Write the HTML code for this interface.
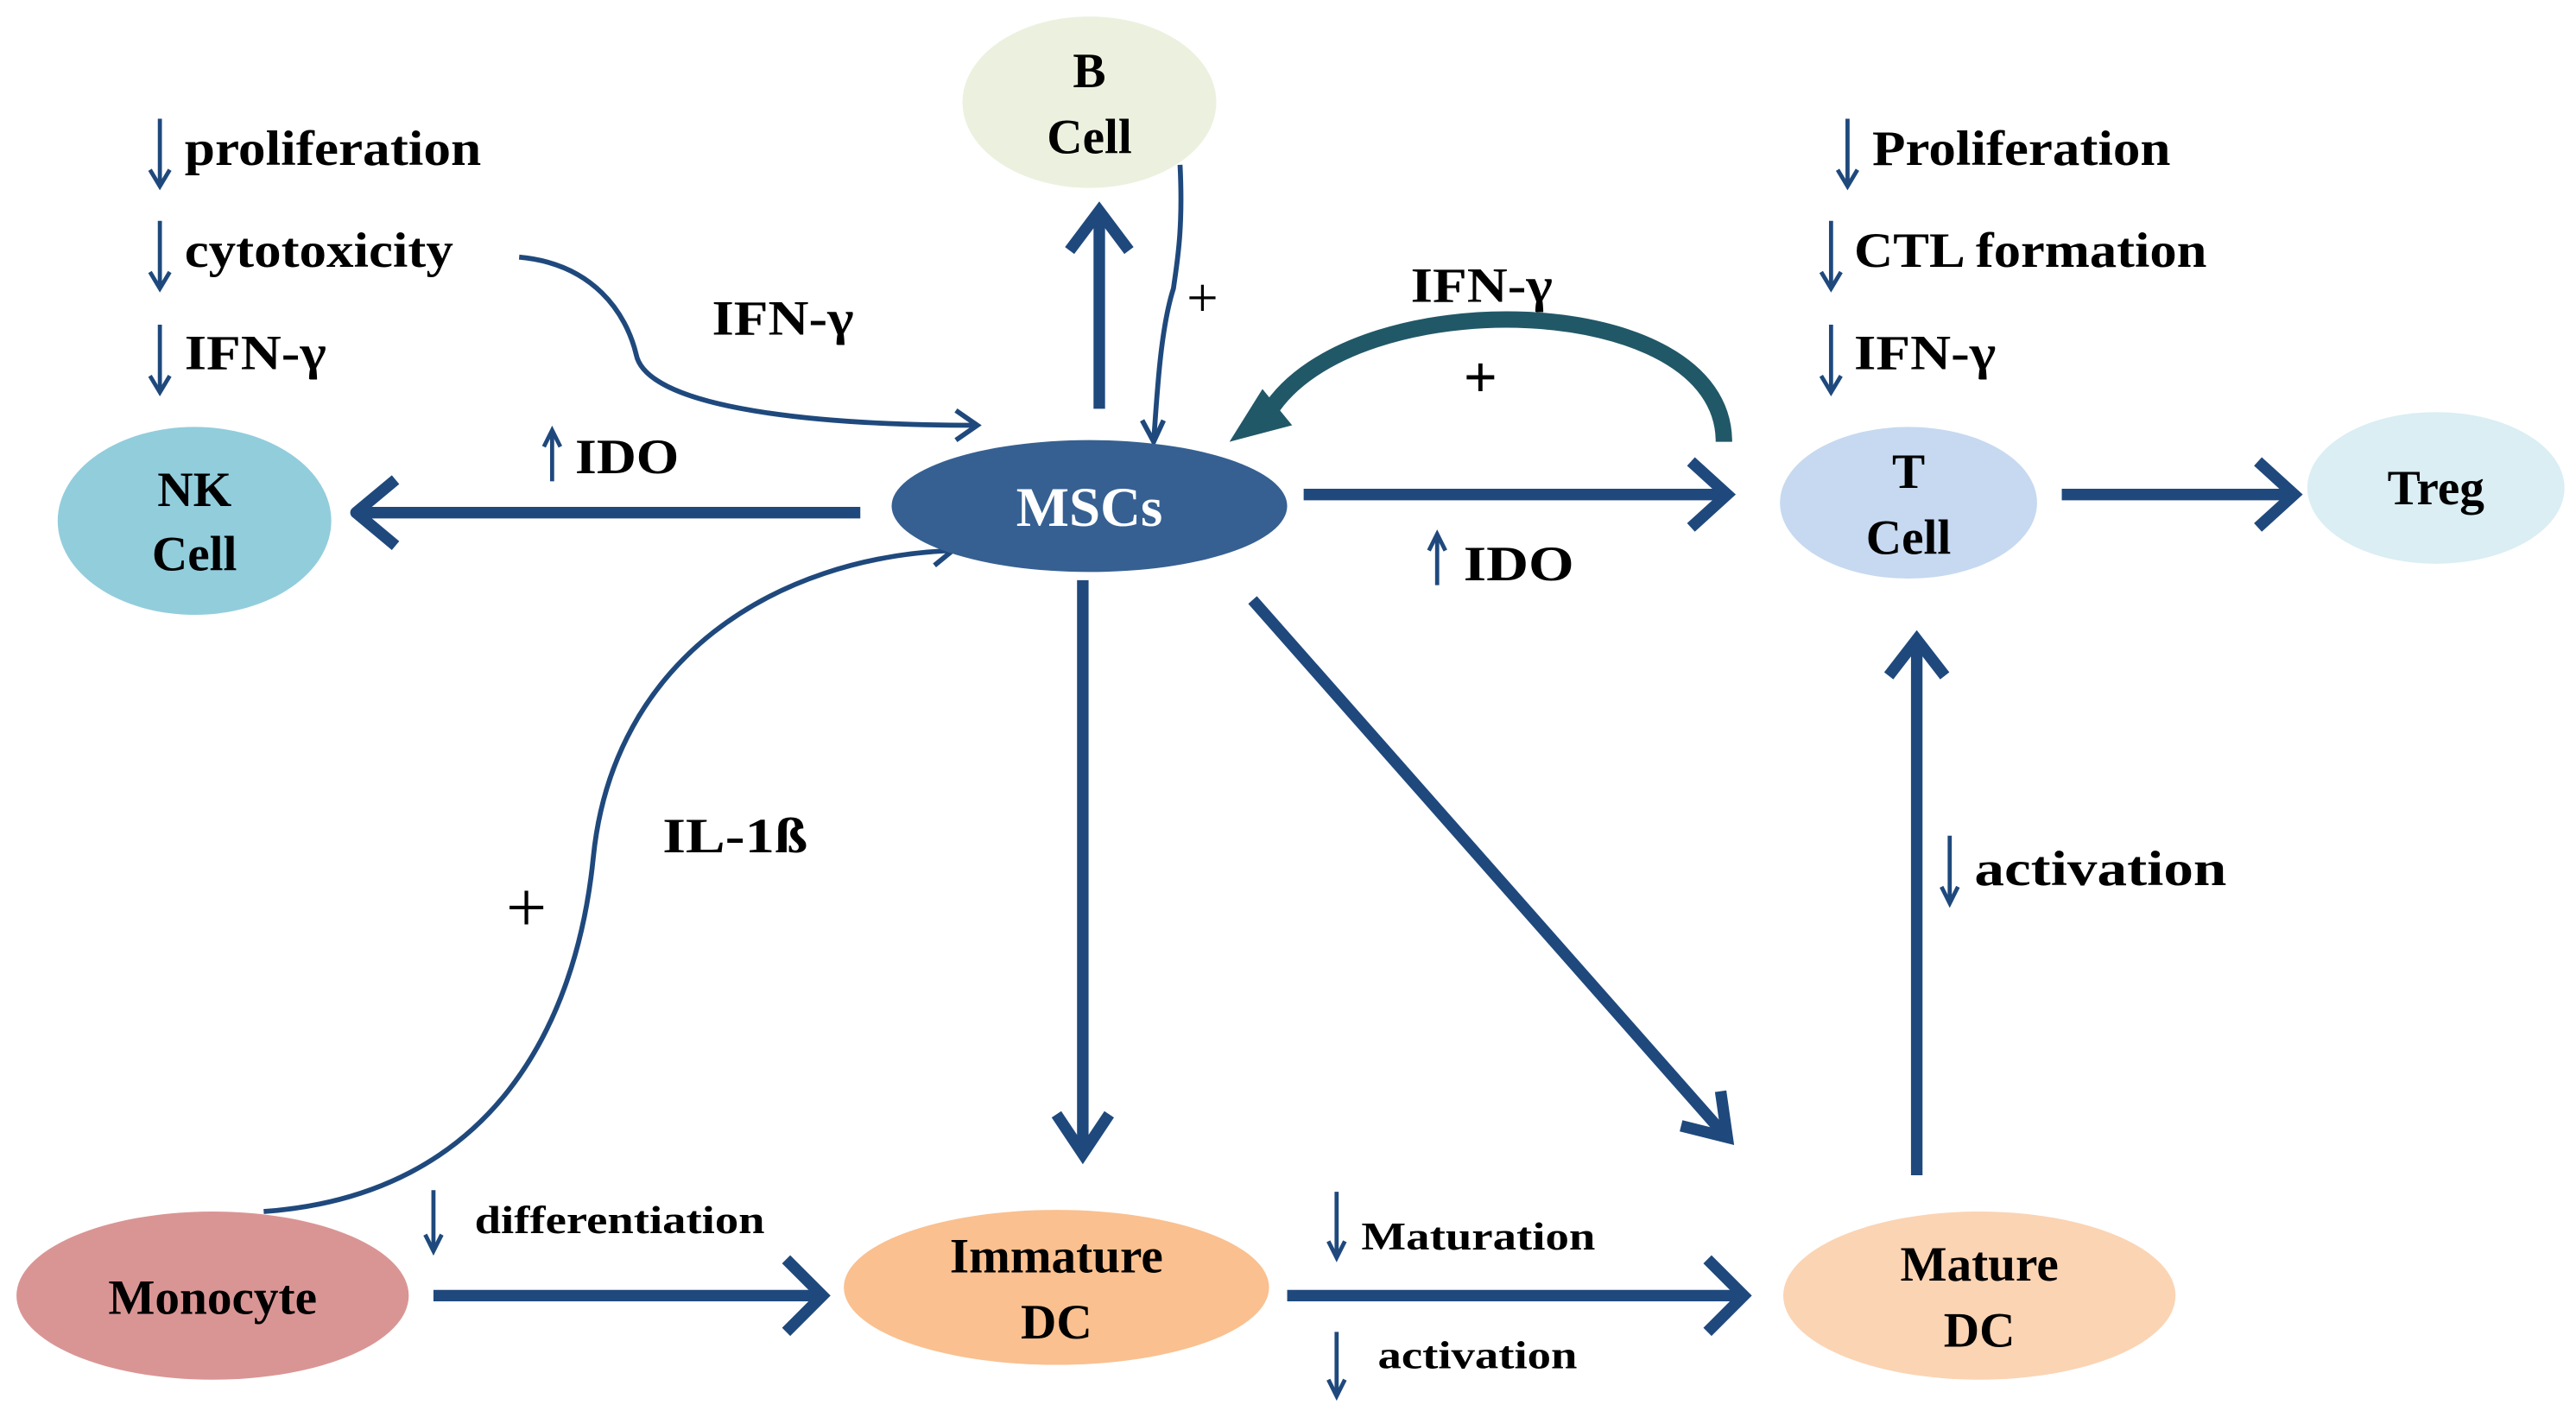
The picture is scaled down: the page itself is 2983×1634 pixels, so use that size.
<!DOCTYPE html>
<html><head><meta charset="utf-8"><style>
html,body{margin:0;padding:0;background:#fff;}
svg{display:block;}
text{font-family:"Liberation Serif",serif;font-weight:bold;fill:#000;}
</style></head><body>
<svg width="2983" height="1634" viewBox="0 0 1563 856" preserveAspectRatio="none" xmlns="http://www.w3.org/2000/svg">
<g fill="none" stroke="#1F497D" stroke-linecap="butt">
<g stroke-width="7">
<line x1="522" y1="311" x2="218" y2="311"/><polyline points="240,291 216,311 240,331" stroke-linejoin="round"/>
<line x1="667" y1="248" x2="667" y2="130"/><polyline points="649,152 667,128 685,152"/>
<line x1="791" y1="300" x2="1046" y2="300"/><polyline points="1026,280 1048,300 1026,320"/>
<line x1="1251" y1="300" x2="1390" y2="300"/><polyline points="1370,280 1392,300 1370,320"/>
<line x1="657" y1="352" x2="657" y2="698"/><polyline points="641,676 657,700 673,676"/>
<line x1="760" y1="364" x2="1046" y2="688"/><polyline points="1020,683 1048,690 1044,662"/>
<line x1="263" y1="786" x2="497" y2="786"/><polyline points="477,764 499,786 477,808"/>
<line x1="781" y1="786" x2="1056" y2="786"/><polyline points="1036,764 1058,786 1036,808"/>
<line x1="1163" y1="713" x2="1163" y2="390"/><polyline points="1146,410 1163,388 1180,410"/>
</g>
<g stroke-width="3">
<path d="M716,100 C718,140 714,160 712,175 C704,200 702,240 700,268"/><polyline points="693,255 700,268 706,255"/>
<path d="M315,156 C360,160 380,190 386,215 C392,245 480,258 593,258"/><polyline points="580,249 593,258 580,267"/>
<path d="M160,735 C300,725 350,620 360,520 C372,400 470,338 578,334"/><polyline points="564,327 578,334 567,343"/>
</g>
<g stroke-width="2.5">
<line x1="97" y1="72" x2="97" y2="112"/><polyline points="91,103 97,113 103,103"/>
<line x1="97" y1="134" x2="97" y2="174"/><polyline points="91,165 97,175 103,165"/>
<line x1="97" y1="197" x2="97" y2="237"/><polyline points="91,228 97,238 103,228"/>
<line x1="1121" y1="72" x2="1121" y2="112"/><polyline points="1115,103 1121,113 1127,103"/>
<line x1="1111" y1="134" x2="1111" y2="174"/><polyline points="1105,165 1111,175 1117,165"/>
<line x1="1111" y1="197" x2="1111" y2="237"/><polyline points="1105,228 1111,238 1117,228"/>
<line x1="335" y1="292" x2="335" y2="262"/><polyline points="330,271 335,261 340,271"/>
<line x1="872" y1="355" x2="872" y2="325"/><polyline points="867,334 872,324 877,334"/>
<line x1="263" y1="722" x2="263" y2="758"/><polyline points="258,749 263,759 268,749"/>
<line x1="811" y1="723" x2="811" y2="762"/><polyline points="806,753 811,763 816,753"/>
<line x1="811" y1="808" x2="811" y2="846"/><polyline points="806,837 811,847 816,837"/>
<line x1="1183" y1="507" x2="1183" y2="547"/><polyline points="1178,538 1183,548 1188,538"/>
</g>
</g>
<path d="M1046,268 C1046,175 820,170 770,250" fill="none" stroke="#215868" stroke-width="10"/>
<polygon points="746,268 766,236 784,258" fill="#215868"/>
<ellipse cx="661" cy="62" rx="77" ry="52" fill="#EBF1DE"/>
<ellipse cx="118" cy="316" rx="83" ry="57" fill="#92CDDC"/>
<ellipse cx="661" cy="307" rx="120" ry="40" fill="#366092"/>
<ellipse cx="1158" cy="305" rx="78" ry="46" fill="#C6D9F0"/>
<ellipse cx="1478" cy="296" rx="78" ry="46" fill="#DAEEF3"/>
<ellipse cx="129" cy="786" rx="119" ry="51" fill="#D99594"/>
<ellipse cx="641" cy="781" rx="129" ry="47" fill="#FAC08F"/>
<ellipse cx="1201" cy="786" rx="119" ry="51" fill="#FBD4B4"/>
<g font-size="30" text-anchor="middle">
<text x="661" y="53">B</text><text x="661" y="93">Cell</text>
<text x="118" y="307">NK</text><text x="118" y="346">Cell</text>
<text x="661" y="319" font-size="34" style="fill:#fff">MSCs</text>
<text x="1158" y="296">T</text><text x="1158" y="336">Cell</text>
<text x="1478" y="306">Treg</text>
<text x="129" y="797">Monocyte</text>
<text x="641" y="772">Immature</text><text x="641" y="812">DC</text>
<text x="1201" y="777">Mature</text><text x="1201" y="817">DC</text>
</g>
<g font-size="30">
<text x="112" y="100" textLength="180" lengthAdjust="spacingAndGlyphs">proliferation</text>
<text x="112" y="162" textLength="163" lengthAdjust="spacingAndGlyphs">cytotoxicity</text>
<text x="112" y="224" textLength="86" lengthAdjust="spacingAndGlyphs">IFN-γ</text>
<text x="432" y="203" textLength="86" lengthAdjust="spacingAndGlyphs">IFN-γ</text>
<text x="349" y="287" textLength="63" lengthAdjust="spacingAndGlyphs">IDO</text>
<text x="856" y="183" textLength="86" lengthAdjust="spacingAndGlyphs">IFN-γ</text>
<text x="888" y="352" textLength="67" lengthAdjust="spacingAndGlyphs">IDO</text>
<text x="1136" y="100" textLength="181" lengthAdjust="spacingAndGlyphs">Proliferation</text>
<text x="1125" y="162" textLength="214" lengthAdjust="spacingAndGlyphs">CTL formation</text>
<text x="1125" y="224" textLength="86" lengthAdjust="spacingAndGlyphs">IFN-γ</text>
<text x="402" y="517" textLength="88" lengthAdjust="spacingAndGlyphs">IL-1ß</text>
<text x="1198" y="537" textLength="153" lengthAdjust="spacingAndGlyphs">activation</text>
<text x="888" y="241" font-size="36">+</text>
</g>
<g font-size="24">
<text x="288" y="748" textLength="176" lengthAdjust="spacingAndGlyphs">differentiation</text>
<text x="826" y="758" textLength="142" lengthAdjust="spacingAndGlyphs">Maturation</text>
<text x="836" y="830" textLength="121" lengthAdjust="spacingAndGlyphs">activation</text>
</g>
<text x="307" y="565" font-size="44" style="font-weight:normal">+</text>
<text x="720" y="192" font-size="34" style="font-weight:normal">+</text>
</svg>
</body></html>
